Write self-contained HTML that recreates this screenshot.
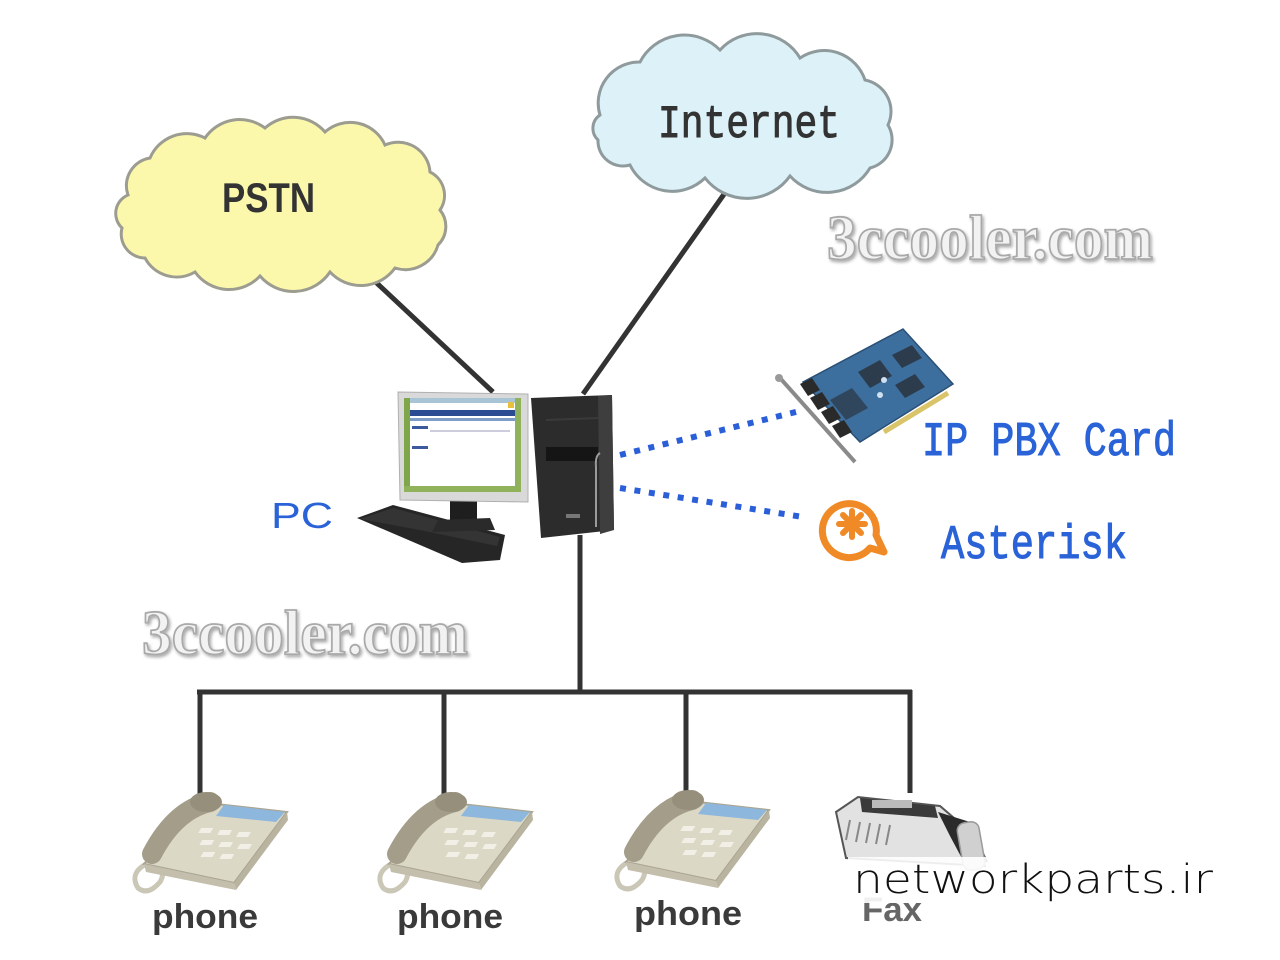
<!DOCTYPE html>
<html>
<head>
<meta charset="utf-8">
<style>
html,body{margin:0;padding:0;background:#fff;}
svg{display:block;}
</style>
</head>
<body>
<svg width="1280" height="960" viewBox="0 0 1280 960" xmlns="http://www.w3.org/2000/svg">
<defs>
  <filter id="wmsh" x="-5%" y="-20%" width="110%" height="140%">
    <feGaussianBlur in="SourceAlpha" stdDeviation="1.5"/>
    <feOffset dx="1.5" dy="2" result="o"/>
    <feComponentTransfer><feFuncA type="linear" slope="0.35"/></feComponentTransfer>
    <feMerge><feMergeNode/><feMergeNode in="SourceGraphic"/></feMerge>
  </filter>
  <g id="phone">
    <path d="M20,70 q-22,10 -12,26 q10,8 22,-6 q6,-10 -2,-16" fill="none" stroke="#cbc7b6" stroke-width="5"/>
    <polygon points="68,10 157,20 104,91 14,72" fill="#dcd8c6" stroke="#aaa592" stroke-width="2"/>
    <polygon points="157,20 158,28 106,98 104,91" fill="#b9b4a0"/>
    <polygon points="14,72 104,91 106,98 16,80" fill="#c4bfac"/>
    <polygon points="94,13 155,20 146,30 86,24" fill="#8db7dc"/>
    <g fill="#f1efe6">
      <rect x="92" y="36" width="12" height="5" transform="skewX(-30)"/>
      <rect x="112" y="38" width="12" height="5" transform="skewX(-30)"/>
      <rect x="132" y="40" width="12" height="5" transform="skewX(-30)"/>
      <rect x="100" y="48" width="12" height="5" transform="skewX(-30)"/>
      <rect x="120" y="50" width="12" height="5" transform="skewX(-30)"/>
      <rect x="140" y="52" width="12" height="5" transform="skewX(-30)"/>
      <rect x="108" y="60" width="12" height="5" transform="skewX(-30)"/>
      <rect x="128" y="62" width="12" height="5" transform="skewX(-30)"/>
    </g>
    <path d="M80,10 Q45,18 22,62" fill="none" stroke="#a39d89" stroke-width="20" stroke-linecap="round"/>
    <ellipse cx="76" cy="10" rx="16" ry="10" fill="#958f7b"/>
  </g>
</defs>

<rect width="1280" height="960" fill="#fff"/>

<!-- connector lines -->
<g stroke="#333" stroke-width="5" fill="none" stroke-linecap="butt">
  <line x1="365" y1="272" x2="493" y2="392"/>
  <line x1="727" y1="190" x2="583" y2="394"/>
  <line x1="580" y1="535" x2="580" y2="692"/>
  <line x1="197" y1="692" x2="912" y2="692"/>
  <line x1="200" y1="690" x2="200" y2="800"/>
  <line x1="444" y1="690" x2="444" y2="800"/>
  <line x1="686" y1="690" x2="686" y2="798"/>
  <line x1="910" y1="690" x2="910" y2="793"/>
</g>

<!-- PSTN cloud -->
<path d="M128,195 A28,28 0 0 1 150,158 A40,40 0 0 1 205,138 A42,42 0 0 1 265,128 A42,42 0 0 1 325,132 A38,38 0 0 1 385,145 A32,32 0 0 1 430,172 A26,26 0 0 1 440,210 A26,26 0 0 1 438,245 A34,34 0 0 1 395,268 A42,42 0 0 1 330,272 A44,44 0 0 1 260,276 A42,42 0 0 1 195,272 A36,36 0 0 1 145,258 A24,24 0 0 1 122,228 A20,20 0 0 1 128,195 Z" fill="#fbf8ab" stroke="#9c9c90" stroke-width="3"/>
<text x="222" y="212" font-family="Liberation Sans, sans-serif" font-weight="bold" font-size="42" fill="#333" textLength="93" lengthAdjust="spacingAndGlyphs">PSTN</text>

<!-- Internet cloud -->
<path d="M600,115 A41,41 0 0 1 640,62 A50,50 0 0 1 720,50 A50,50 0 0 1 800,58 A43,43 0 0 1 865,80 A32,32 0 0 1 888,125 A29,29 0 0 1 870,168 A50,50 0 0 1 790,176 A53,53 0 0 1 705,178 A47,47 0 0 1 630,165 A25,25 0 0 1 598,140 A16,16 0 0 1 600,115 Z" fill="#dcf1f8" stroke="#8e9a9c" stroke-width="3"/>
<text x="658" y="137" font-family="Liberation Mono, monospace" font-size="46" fill="#333" stroke="#333" stroke-width="1" textLength="182" lengthAdjust="spacingAndGlyphs">Internet</text>

<!-- watermarks -->
<g font-family="Liberation Serif, serif" font-weight="bold" fill="#f2f2f2" stroke="#a9a9a9" stroke-width="1.8" filter="url(#wmsh)">
  <text x="827" y="259" font-size="64" textLength="326" lengthAdjust="spacingAndGlyphs">3ccooler.com</text>
  <text x="142" y="654" font-size="64" textLength="326" lengthAdjust="spacingAndGlyphs">3ccooler.com</text>
</g>

<!-- PC: keyboard -->
<polygon points="357,518 393,505 505,535 500,560 462,563" fill="#262626"/>
<polygon points="360,519 393,508 500,537 497,546 420,530" fill="#3a3a3a" opacity="0.7"/>
<rect x="450" y="498" width="27" height="26" fill="#1e1e1e"/>
<polygon points="438,520 490,518 495,530 432,532" fill="#2a2a2a"/>
<!-- monitor -->
<polygon points="398,392 528,394 528,502 400,500" fill="#d9d9d9" stroke="#b0b0b0" stroke-width="1"/>
<rect x="404" y="398" width="117" height="94" fill="#ffffff"/>
<rect x="404" y="398" width="117" height="5" fill="#a9c4d4"/>
<rect x="404" y="410" width="117" height="6" fill="#2b4b93"/>
<rect x="404" y="418" width="117" height="3" fill="#7e9cc8"/>
<rect x="404" y="398" width="6" height="94" fill="#7fa64a"/>
<rect x="404" y="486" width="117" height="6" fill="#8fb25a"/>
<rect x="515" y="398" width="6" height="94" fill="#8fb25a"/>
<rect x="412" y="426" width="16" height="3" fill="#3b5aa0"/>
<rect x="412" y="446" width="16" height="3" fill="#3b5aa0"/>
<rect x="430" y="430" width="80" height="2" fill="#ccd"/>
<rect x="508" y="402" width="6" height="6" fill="#e8c040"/>
<!-- tower -->
<polygon points="531,398 612,395 614,530 541,538" fill="#2c2c2c"/>
<polygon points="598,396 612,395 614,530 600,534" fill="#3e3e3e"/>
<rect x="546" y="447" width="52" height="14" fill="#151515"/>
<line x1="546" y1="420" x2="598" y2="418" stroke="#3a3a3a" stroke-width="2"/>
<path d="M600,453 q-5,3 -4,14 l0,60" stroke="#9a9a9a" stroke-width="2" fill="none"/>
<rect x="566" y="514" width="14" height="4" fill="#777"/>

<text x="271" y="528" font-family="Liberation Sans, sans-serif" font-size="36" fill="#2a62d8" textLength="62" lengthAdjust="spacingAndGlyphs">PC</text>

<!-- dotted connectors -->
<g stroke="#2a5fd8" stroke-width="6" fill="none" stroke-dasharray="6 8.6">
  <line x1="620" y1="455" x2="800" y2="411"/>
  <line x1="620" y1="488" x2="803" y2="517"/>
</g>

<!-- PCI card -->
<g>
  <polygon points="803,382 903,329 953,384 860,442" fill="#3c6f9e" stroke="#2b4f74" stroke-width="1.5"/>
  <line x1="884" y1="432" x2="948" y2="393" stroke="#d9c46a" stroke-width="5"/>
  <polygon points="858,372 880,360 892,376 870,388" fill="#2c3c4c"/>
  <polygon points="892,355 912,345 922,358 902,368" fill="#2c3c4c"/>
  <polygon points="895,385 915,374 925,387 905,398" fill="#2c3c4c"/>
  <polygon points="830,400 852,388 868,408 846,420" fill="#30465c"/>
  <circle cx="884" cy="380" r="3" fill="#cfe0f0"/>
  <circle cx="880" cy="395" r="3" fill="#cfe0f0"/>
  <g fill="#2a2a2a">
    <polygon points="800,384 812,378 820,390 808,396"/>
    <polygon points="810,398 822,392 830,404 818,410"/>
    <polygon points="821,412 833,406 841,418 829,424"/>
    <polygon points="832,426 844,420 852,432 840,438"/>
  </g>
  <line x1="780" y1="378" x2="855" y2="462" stroke="#8a8a8a" stroke-width="4"/>
  <circle cx="779" cy="378" r="4" fill="#9a9a9a"/>
</g>
<text x="922" y="455" font-family="Liberation Mono, monospace" font-size="48" fill="#2a62d8" stroke="#2a62d8" stroke-width="1" textLength="254" lengthAdjust="spacingAndGlyphs">IP PBX Card</text>

<!-- Asterisk icon -->
<g stroke="#f08a26" fill="none">
  <path d="M870,548 A27,27 0 1 1 876,535 L884,552 Z" stroke-width="7" stroke-linejoin="round"/>
  <g stroke-width="6" stroke-linecap="round">
    <line x1="852" y1="511" x2="852" y2="537"/>
    <line x1="839" y1="524" x2="865" y2="524"/>
    <line x1="843" y1="515" x2="861" y2="533"/>
    <line x1="861" y1="515" x2="843" y2="533"/>
  </g>
</g>
<text x="941" y="558" font-family="Liberation Mono, monospace" font-size="48" fill="#2a62d8" stroke="#2a62d8" stroke-width="1" textLength="186" lengthAdjust="spacingAndGlyphs">Asterisk</text>

<!-- phones -->
<use href="#phone" transform="translate(130,792)"/>
<use href="#phone" transform="translate(375,792)"/>
<use href="#phone" transform="translate(612,790)"/>

<g font-family="Liberation Sans, sans-serif" font-weight="bold" font-size="34" fill="#3a3a3a">
  <text x="152" y="928" textLength="106" lengthAdjust="spacingAndGlyphs">phone</text>
  <text x="397" y="928" textLength="106" lengthAdjust="spacingAndGlyphs">phone</text>
  <text x="634" y="925" textLength="108" lengthAdjust="spacingAndGlyphs">phone</text>
</g>

<!-- fax -->
<g>
  <polygon points="836,812 858,797 940,806 968,830 985,866 846,858" fill="#e2e2e2" stroke="#555" stroke-width="2"/>
  <polygon points="860,798 935,806 938,818 862,812" fill="#3a3a3a"/>
  <rect x="872" y="800" width="40" height="8" fill="#bbb"/>
  <g stroke="#888" stroke-width="2">
    <line x1="850" y1="820" x2="846" y2="840"/>
    <line x1="860" y1="822" x2="856" y2="842"/>
    <line x1="870" y1="823" x2="866" y2="843"/>
    <line x1="880" y1="824" x2="876" y2="844"/>
    <line x1="890" y1="825" x2="886" y2="845"/>
  </g>
  <polygon points="938,812 970,822 988,862 966,866 950,836" fill="#2b2b2b"/>
  <rect x="960" y="822" width="22" height="48" rx="8" fill="#d0d0d0" stroke="#999" stroke-width="1.5" transform="rotate(-10 971 846)"/>
  <text x="862" y="921" font-family="Liberation Sans, sans-serif" font-weight="bold" font-size="34" fill="#666" textLength="60" lengthAdjust="spacingAndGlyphs">Fax</text>
</g>

<!-- networkparts watermark band -->
<rect x="848" y="857" width="372" height="46" fill="#ffffff" opacity="0.9"/>
<text x="853" y="893" font-family="DejaVu Sans, Liberation Sans, sans-serif" font-weight="200" font-size="40" fill="#111" textLength="360" lengthAdjust="spacingAndGlyphs">networkparts.ir</text>
</svg>
</body>
</html>
